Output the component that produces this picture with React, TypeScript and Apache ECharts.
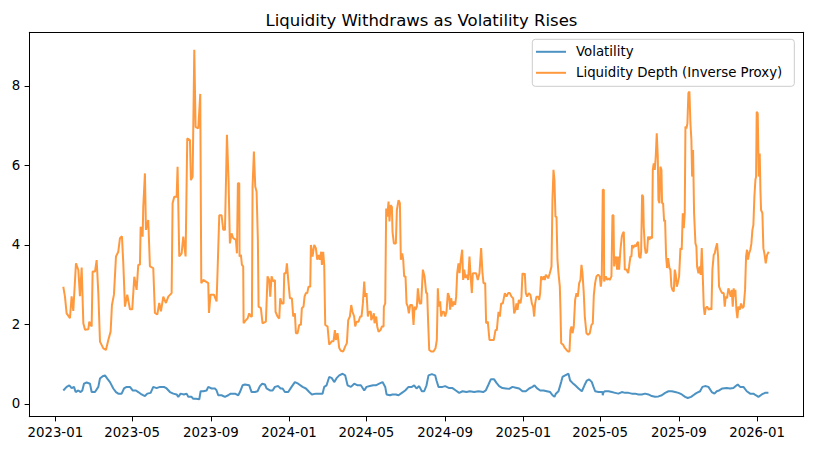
import React, { useEffect, useRef } from "react";
import * as echarts from "echarts";

const TITLE = "Liquidity Withdraws as Volatility Rises";
const SERIES_NAMES = ["Volatility", "Liquidity Depth (Inverse Proxy)"];
// x values are days counted from this date
const BASE_DATE = Date.UTC(2023, 0, 1);
const X_TICK_LABELS = ["2023-01", "2023-05", "2023-09", "2024-01", "2024-05", "2024-09", "2025-01", "2025-05", "2025-09", "2026-01"];
const Y_TICKS = [0, 2, 4, 6, 8];
const X_RANGE = [-40.6, 1168.9];
const Y_RANGE = [-0.32, 9.35];

// [day since 2023-01-01, value]
const volatility: [number, number][] = [
  [12.5,0.34],[17.7,0.43],[21.9,0.47],[25.6,0.40],[29.2,0.43],[31.8,0.30],[36,0.34],[39.6,0.30],[42.2,0.34],[44.8,0.51],[49,0.54],[54.2,0.51],[56.8,0.30],[62,0.30],[67.2,0.43],[69.8,0.64],[74,0.70],[77.6,0.72],[81.2,0.64],[85.4,0.55],[90.6,0.39],[94.8,0.30],[98.4,0.26],[103.6,0.26],[107.3,0.39],[111.4,0.43],[116.6,0.43],[120.8,0.34],[126,0.34],[129.6,0.30],[134.8,0.24],[140,0.20],[143.7,0.26],[148.9,0.28],[153,0.43],[158.3,0.40],[163.5,0.43],[169.7,0.43],[173.9,0.39],[179.1,0.30],[184.3,0.26],[189.5,0.24],[192.1,0.18],[195.7,0.26],[200.9,0.24],[205.1,0.26],[207.7,0.18],[212.9,0.18],[215.5,0.13],[219.7,0.13],[224.9,0.12],[227,0.32],[231.1,0.32],[236.3,0.34],[238.9,0.43],[244.1,0.39],[249.3,0.39],[251.9,0.34],[254.5,0.22],[259.7,0.22],[264.9,0.18],[270.1,0.22],[273.8,0.26],[280.6,0.26],[285.8,0.22],[288.4,0.30],[292.5,0.47],[296.2,0.49],[302.9,0.47],[306.6,0.30],[311.8,0.30],[315.9,0.32],[319.6,0.45],[323.2,0.51],[327.4,0.49],[330,0.39],[335.2,0.34],[339.4,0.34],[343,0.43],[348.2,0.45],[351.9,0.39],[355,0.39],[358.6,0.30],[363.8,0.30],[369,0.43],[374.2,0.55],[379.4,0.51],
  [386.2,0.43],[391.4,0.39],[396.6,0.30],[400.8,0.24],[407,0.26],[412.2,0.26],[417.4,0.26],[420,0.43],[423.7,0.47],[427.8,0.68],[432,0.65],[435.6,0.55],[439.3,0.65],[443.5,0.72],[448.7,0.76],[452.8,0.72],[456.5,0.47],[461.7,0.43],[466.9,0.51],[472.1,0.47],[477.3,0.47],[482.5,0.34],[486.1,0.43],[491.3,0.45],[496.5,0.47],[500.7,0.47],[505.9,0.51],[511.1,0.55],[515.3,0.43],[517.4,0.24],[522.6,0.22],[526.7,0.24],[531.9,0.24],[536.1,0.22],[541.3,0.28],[546.5,0.34],[551.7,0.43],[556.9,0.43],[560.5,0.47],[564.2,0.39],[568.3,0.45],[572.5,0.32],[576.2,0.32],[579.8,0.47],[582.9,0.72],[588.1,0.75],[593.3,0.72],[595.4,0.59],[598.5,0.43],[604.8,0.43],[608.9,0.45],[615.2,0.40],[620.4,0.40],[625.6,0.34],[630.8,0.28],[636,0.32],[642.2,0.30],[647.4,0.32],[654.2,0.30],[661,0.32],[668.3,0.30],[672.4,0.34],[676.6,0.49],[680.2,0.62],[685.4,0.62],[689.1,0.53],[693.2,0.45],[698.4,0.40],[703.7,0.39],[708.9,0.38],[714.1,0.43],[719.3,0.41],[724.5,0.39],[729.7,0.32],[734.9,0.32],[740.1,0.39],[745.3,0.43],
  [748.5,0.47],[752.1,0.40],[757.3,0.34],[762.5,0.34],[767.7,0.32],[772.9,0.30],[776.6,0.22],[779.7,0.18],[781.8,0.26],[785.9,0.32],[790.1,0.55],[792.2,0.68],[796.3,0.72],[801.5,0.76],[804.1,0.59],[807.8,0.53],[812,0.47],[817.2,0.39],[822.4,0.32],[826.5,0.47],[830.2,0.59],[833.8,0.62],[838,0.55],[840.6,0.43],[843.2,0.32],[848.4,0.30],[854.6,0.30],[855.1,0.22],[856.2,0.30],[858.8,0.32],[864,0.32],[869.2,0.30],[874.4,0.28],[879.6,0.26],[884.8,0.30],[890,0.28],[895.2,0.28],[900.4,0.26],[905.6,0.26],[910.8,0.24],[916,0.24],[921.2,0.26],[926.4,0.24],[931.6,0.20],[936.8,0.18],[942,0.19],[947.3,0.22],[952.5,0.28],[957.7,0.32],[962.9,0.32],[968.1,0.30],[973.3,0.28],[978.5,0.24],[983.7,0.18],[987.8,0.15],[993,0.18],[998.2,0.24],[1001.9,0.28],[1007.1,0.32],[1010.7,0.43],[1014.9,0.45],[1020.1,0.43],[1025.3,0.30],[1029.5,0.26],[1033.1,0.32],[1036.8,0.34],[1042,0.39],[1048.7,0.40],[1053.9,0.39],[1059.1,0.40],[1062.8,0.45],[1065.9,0.49],[1069.6,0.43],[1074.8,0.43],[1080,0.32],[1085.2,0.26],[1090.4,0.26],[1094,0.22],[1098.2,0.18],[1103.4,0.24],[1108.6,0.28],[1113.8,0.28],
];

const liquidityDepth: [number, number][] = [
  [12.5,2.95],[15.1,2.70],[17.7,2.28],[22.9,2.16],[25.5,2.71],[28.1,2.34],[32.3,3.54],[36,3.37],[38.5,2.71],[41.2,3.43],[43.8,2.03],[46.4,1.87],[51.6,1.88],[53.1,2.07],[56.8,1.95],[58.3,3.33],[62,3.33],[64.6,3.62],[67.2,2.79],[69.8,1.57],[75,1.40],[79.1,1.36],[82.8,1.61],[86.4,1.82],[88.5,2.49],[91.6,2.75],[94.8,3.71],[98.4,3.83],[101,4.17],[104.1,4.22],[106.2,3.54],[108.8,2.45],[112.4,2.75],[116.6,2.38],[120.2,2.38],[123.4,3.20],[127,2.87],[129.6,3.50],[132.2,3.50],[133.3,4.46],[136.4,4.21],[137.4,4.96],[140,5.80],[141.6,4.38],[145.2,4.63],[147.8,3.46],[153,3.42],[155.6,2.29],[159.3,2.25],[162.4,2.54],[165,2.33],[168.7,2.70],[172.8,2.54],[176.5,2.70],[181.7,2.79],[183.2,5.05],[185.8,5.21],[189.5,5.21],[191,5.97],[193.6,3.71],[197.3,3.79],[199.9,4.21],[203.5,3.71],[206.1,6.68],[210.3,6.64],[211.8,5.63],[214.5,5.72],[217.1,8.91],[219.1,6.97],[223.3,6.93],[226.4,7.80],[228,3.04],[231.1,3.12],[238.9,3.04],[240,2.29],[242.5,2.75],[247.8,2.75],[251.9,2.58],[253.5,3.37],[256.1,4.75],[259.7,4.75],[262.3,4.38],[265,4.38],[268.1,6.77],[270.6,5.63],[272.7,4.04],[275.3,4.29],[277.9,4.17],
  [282.1,4.13],[283.7,3.79],[285.2,5.55],[287.3,5.55],[287.8,3.71],[289.9,3.75],[291.5,3.50],[293.5,3.46],[294.1,2.03],[297.7,2.11],[300.3,2.15],[302.9,2.28],[305.5,2.20],[307.1,2.20],[308.1,5.47],[310.2,6.35],[312.3,5.47],[314.4,5.34],[316.4,4.13],[317.5,2.45],[321.1,2.41],[323.7,2.03],[328.9,2.07],[331.5,3.21],[334.1,3.12],[335.7,2.70],[337.8,3.21],[340.4,3.08],[343,3.12],[344,2.32],[347.2,2.20],[349.8,2.15],[351.3,2.66],[353.9,2.53],[356.5,2.53],[357.6,3.29],[360.2,3.29],[361.7,3.54],[363.8,3.12],[366.4,2.66],[369.5,2.66],[371.6,2.20],[374.2,2.28],[375.8,1.78],[378.4,1.78],[381,1.99],[383.6,1.99],[385.1,2.41],[387.7,2.45],[389.3,2.70],[391.4,2.79],[393.5,2.79],[395.5,2.95],[398.2,2.95],[399.2,4.00],[401.8,3.71],[404.4,4.00],[407,3.92],[409.1,3.63],[411.2,3.75],[413.2,3.63],[415.3,3.83],[416.4,3.50],[418.4,3.83],[420,3.50],[421.6,1.99],[425.2,1.95],[427.8,1.49],[432,1.58],[434.6,1.58],[436.7,1.86],[438.2,1.61],[440.8,1.78],[443.4,1.41],[446,1.34],[449.7,1.32],[452.8,1.45],[455.4,1.53],[457.5,2.11],[460.1,2.20],[462.2,2.49],[464.2,2.32],[466.8,2.20],[468.4,1.95],[470.5,2.07],[473.6,2.07],[476.2,2.20],[478.3,2.20],[480.4,2.53],[482.5,3.08],[484,2.70],[486.1,2.79],[488.2,2.20],[490.3,2.32],[492.9,2.32],
  [493.4,2.11],[496,2.20],[497.6,2.28],[498.6,2.03],[501.2,2.20],[502.8,1.95],[504.9,1.82],[508,1.86],[510.1,1.95],[512.7,1.95],[513.2,2.45],[515.3,2.53],[516.8,4.92],[518.4,4.71],[520.5,5.09],[522,4.59],[523.6,5.00],[525.7,4.96],[526.7,4.33],[528.8,4.04],[531.9,4.04],[533.5,4.88],[536.1,5.13],[538.2,5.05],[539.7,3.63],[541.8,3.79],[543.4,3.63],[544.9,3.21],[547,3.21],[548.6,2.53],[550.6,2.45],[552.2,2.28],[554.3,2.49],[557.4,2.49],[559.5,1.99],[561.1,2.45],[562.6,2.37],[564.7,2.45],[566.3,2.91],[568.9,2.53],[571.5,2.53],[574.1,3.38],[576.7,3.21],[579.3,2.79],[580.8,2.79],[582.4,2.03],[584,1.36],[587.1,1.32],[590.7,1.32],[593.8,1.40],[595.9,1.61],[597.5,2.91],[599,2.45],[601.1,2.58],[602.7,2.20],[604.8,2.32],[606.9,2.32],[608.9,2.20],[611,2.32],[613.1,2.79],[615.2,2.70],[616.7,2.37],[618.3,2.66],[620.4,2.45],[622.5,2.58],[624.5,2.49],[626.1,2.70],[627.7,3.29],[629.7,3.54],[631.3,3.29],[633.4,3.63],[635.5,3.88],[637,3.12],[638.6,3.38],[640.7,3.17],[642.8,3.25],[644.8,3.12],[646.9,3.71],[648.5,3.25],[650.6,2.79],[652.1,3.29],[654.7,3.29],[657.3,3.29],[659.9,3.12],[662.5,3.29],[665.1,3.92],[667.2,3.29],[668.8,3.04],[671.4,3.04],[672.9,2.03],[675.5,2.07],[678.1,1.61],[681.8,1.61],[684.9,1.61],[687.5,1.86],[689.6,1.86],[692.2,2.32],[694.3,2.20],[696.4,2.53],[699,2.53],
  [702.1,2.79],[704.7,2.70],[707.3,2.79],[709.9,2.79],[712.5,2.70],[715.1,2.66],[716.7,2.28],[718.8,2.37],[720.3,2.53],[721.9,2.37],[724,2.62],[726.6,2.53],[728.1,2.70],[729.7,3.29],[731.8,3.25],[733.3,3.29],[734.9,2.79],[737,2.70],[739.6,2.79],[742.2,2.74],[744.3,2.53],[746.3,2.45],[747.9,2.20],[749.5,2.53],[751.5,2.70],[754.1,2.70],[755.7,2.62],[757.3,2.79],[758.8,3.21],[760.9,3.12],[763,3.21],[764.6,3.12],[766.1,3.25],[768.2,3.21],[769.8,3.16],[772.4,3.29],[775,3.46],[776.5,5.13],[778.1,5.89],[779.6,5.64],[781.2,4.71],[782.8,4.71],[784.3,3.63],[785.9,3.29],[788,2.95],[789,2.37],[790.1,1.53],[793.2,1.49],[795.8,1.41],[798.4,1.36],[801,1.32],[803.1,1.32],[804.6,1.86],[806.2,1.95],[807.8,1.78],[809.8,1.95],[811.9,2.62],[814,2.79],[816.1,2.70],[818.2,3.04],[820.2,3.12],[821.8,3.50],[823.4,3.29],[825.4,2.79],[827,2.20],[829.6,1.78],[832.2,1.74],[834.8,1.78],[837.4,1.99],[839.5,2.03],[841.1,2.74],[843.1,3.04],[845.2,3.21],[847.8,3.25],[850.4,3.21],[852,2.95],[853.5,3.16],[855.1,5.39],[856.7,5.39],[857.2,3.08],[859.8,3.21],[861.9,3.12],[864,3.16],[866,3.12],[868.6,3.21],[870.2,4.75],[871.8,4.75],[872.8,3.46],[874.4,3.63],[875.9,3.71],[877.5,3.38],[879,3.71],[880.6,3.38],[882.7,3.88],[884.8,4.21],[886.3,4.29],[887.9,4.33],[889.5,3.38],[892.1,3.38],[894.7,3.29],[896.2,3.46],[898.3,3.71],[899.9,3.71],[900.9,4.00],[902.5,3.92],[905.1,4.00],
  [907.1,3.96],[908.7,4.04],[910.3,4.08],[911.8,3.71],[913.9,3.67],[915,3.83],[916.5,5.26],[918.1,5.22],[919.1,4.46],[920.7,3.96],[922.2,3.79],[924.3,3.83],[925.9,4.21],[928,4.13],[929.5,4.21],[932.1,4.17],[933.2,5.89],[934.7,6.05],[936.3,5.89],[937.8,6.22],[939.4,6.81],[941,6.22],[942,5.13],[943.6,5.05],[945.1,5.97],[946.7,5.89],[947.7,5.05],[949.3,5.05],[950.9,4.59],[952.4,4.63],[954,3.71],[955.5,3.42],[957.1,3.67],[959.2,3.42],[960.7,3.38],[962.3,2.95],[963.9,2.87],[966,2.83],[967.5,3.38],[969.1,3.25],[970.6,2.95],[972.2,3.04],[974.3,3.21],[976.4,3.92],[978.4,3.88],[980,4.80],[981.6,4.42],[983.1,4.80],[984.2,6.98],[985.7,6.93],[987.3,7.06],[988.8,7.82],[990.4,7.86],[992,7.06],[993.5,6.64],[994.6,5.72],[996.1,6.39],[997.7,4.80],[999.8,4.04],[1001.3,3.96],[1002.4,3.46],[1004.5,3.29],[1006.5,3.46],[1008.1,3.25],[1009.7,3.92],[1011.2,3.25],[1012.8,2.45],[1014.3,2.24],[1015.9,2.41],[1018,2.45],[1020.6,2.37],[1023.2,2.41],[1024.8,2.37],[1026.3,3.38],[1028.4,3.75],[1030,3.79],[1031.5,3.92],[1033.6,4.04],[1035.2,3.71],[1036.7,2.95],[1038.8,2.87],[1041.4,2.79],[1044,2.79],[1045.6,2.45],[1047.1,2.70],[1049.2,2.66],[1051.3,2.91],[1053.4,2.79],[1054.9,2.70],[1056.5,2.87],[1058.1,2.45],[1059.6,2.91],[1060.7,2.70],[1062.2,2.87],[1063.8,2.37],[1065.3,2.16],[1066.9,2.45],[1069,2.37],[1071.1,2.53],[1073.2,2.41],[1075.2,2.45],[1077.3,2.87],[1078.9,3.71],[1080.4,3.88],[1082,3.63],[1083.6,3.79],[1085.6,3.88],[1087.2,4.04],[1088.8,4.38],[1090.3,4.50],[1091.9,5.22],[1093.5,5.64],[1094.5,5.72],[1095.5,7.35],[1097.1,7.31],[1098.7,5.72],[1100.2,6.30],[1101.3,5.39],[1102.3,4.88],[1104.4,4.80],[1105.9,3.92],[1107.5,3.79],[1109.6,3.54],[1111.7,3.75],[1114.3,3.83],
];

const FONT = "'DejaVu Sans', sans-serif";
const COLORS = ["#1f77b4", "#ff7f0e"];

function monthLabelToDay(label: string): number {
  const [y, m] = label.split("-").map(Number);
  return (Date.UTC(y, m - 1, 1) - BASE_DATE) / 86400000;
}

export default function App() {
  const ref = useRef<HTMLDivElement>(null);

  useEffect(() => {
    if (!ref.current) return;
    const chart = echarts.init(ref.current, null, { renderer: "svg" });
    const xTickDays = X_TICK_LABELS.map(monthLabelToDay);
    const labelStyle = { fontFamily: FONT, fontSize: 13.33, color: "#000" };
    const spine = { show: true, onZero: false, lineStyle: { color: "#000", width: 1 } };
    const hidden = { show: false };

    chart.setOption({
      animation: false,
      backgroundColor: "#ffffff",
      title: {
        text: TITLE,
        left: 416.5,
        textAlign: "center",
        top: 7,
        textStyle: { fontFamily: FONT, fontSize: 16.5, fontWeight: "normal", color: "#000" },
      },
      legend: {
        orient: "vertical",
        left: 532.3,
        top: 39.3,
        padding: [5, 12, 6, 3.7],
        icon: "rect",
        itemWidth: 30,
        itemHeight: 2,
        itemGap: 6,
        borderColor: "#cccccc",
        borderWidth: 1,
        borderRadius: 3,
        backgroundColor: "rgba(255,255,255,0.8)",
        textStyle: { ...labelStyle, padding: [0, 0, 0, 5], lineHeight: 15 },
        data: SERIES_NAMES.map((name, i) => ({
          name,
          itemStyle: { color: COLORS[i], opacity: 0.8 },
        })),
      },
      grid: {
        left: 29.3,
        right: 9.3,
        top: 32.3,
        bottom: 34.3,
        containLabel: false,
      },
      xAxis: [
        {
          type: "value",
          min: X_RANGE[0],
          max: X_RANGE[1],
          splitLine: hidden,
          axisLine: spine,
          axisTick: { show: true, length: 4.7, lineStyle: { color: "#000", width: 1 }, customValues: xTickDays },
          axisLabel: {
            ...labelStyle,
            customValues: xTickDays,
            margin: 9,
            formatter: (v: number) => {
              const i = xTickDays.findIndex((d) => Math.abs(d - v) < 0.5);
              return i >= 0 ? X_TICK_LABELS[i] : "";
            },
          },
        },
        {
          type: "value",
          position: "top",
          min: X_RANGE[0],
          max: X_RANGE[1],
          splitLine: hidden,
          axisLine: spine,
          axisTick: hidden,
          axisLabel: hidden,
        },
      ],
      yAxis: [
        {
          type: "value",
          min: Y_RANGE[0],
          max: Y_RANGE[1],
          splitLine: hidden,
          axisLine: spine,
          axisTick: { show: true, length: 4.7, lineStyle: { color: "#000", width: 1 }, customValues: Y_TICKS },
          axisLabel: {
            ...labelStyle,
            customValues: Y_TICKS,
            margin: 9,
            formatter: (v: number) => {
              const r = Math.round(v);
              return Math.abs(v - r) < 1e-6 && Y_TICKS.includes(r) ? String(r) : "";
            },
          },
        },
        {
          type: "value",
          position: "right",
          min: Y_RANGE[0],
          max: Y_RANGE[1],
          splitLine: hidden,
          axisLine: spine,
          axisTick: hidden,
          axisLabel: hidden,
        },
      ],
      series: [
        {
          name: SERIES_NAMES[0],
          type: "line",
          symbol: "none",
          data: volatility,
          itemStyle: { color: COLORS[0], opacity: 0.8 },
          lineStyle: { color: COLORS[0], width: 2, opacity: 0.8 },
          z: 2,
        },
        {
          name: SERIES_NAMES[1],
          type: "line",
          symbol: "none",
          data: liquidityDepth,
          itemStyle: { color: COLORS[1], opacity: 0.8 },
          lineStyle: { color: COLORS[1], width: 2, opacity: 0.8 },
          z: 3,
        },
      ],
    });

    return () => chart.dispose();
  }, []);

  return (
    <div
      ref={ref}
      style={{ position: "fixed", left: 0, top: 0, width: 813, height: 451, background: "#fff" }}
    />
  );
}
